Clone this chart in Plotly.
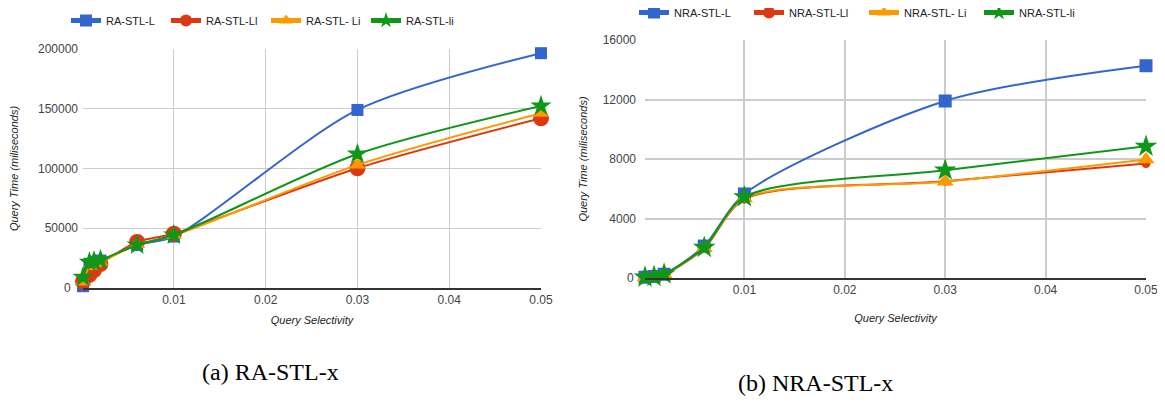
import plotly.graph_objects as go

W, H = 1165, 402
OX, OY = 8, 8  # page offset of the figure in the browser window

# ---- data: left chart (RA-STL-x) ----
ra_x = [0.0001, 0.0008, 0.0013, 0.002, 0.006, 0.01, 0.03, 0.05]
ra_L = [1500, 20000, 22000, 23000, 36000, 43000, 149000, 196500]
ra_Ll = [5500, 11000, 15000, 20000, 38500, 45500, 100200, 142000]
ra_Li = [5000, 18000, 20000, 21500, 36500, 44000, 103000, 146200]
ra_li = [9000, 21500, 22500, 23500, 36000, 44300, 112100, 152300]
ra_names = ["RA-STL-L", "RA-STL-Ll", "RA-STL- Li", "RA-STL-li"]

# ---- data: right chart (NRA-STL-x) ----
nra_x = [0.0001, 0.001, 0.002, 0.006, 0.01, 0.03, 0.05]
nra_L = [50, 100, 250, 2150, 5650, 11900, 14270]
nra_Ll = [40, 90, 230, 2000, 5300, 6500, 7700]
nra_Li = [40, 90, 230, 2000, 5350, 6470, 7970]
nra_li = [50, 100, 260, 2050, 5450, 7250, 8850]
nra_names = ["NRA-STL-L", "NRA-STL-Ll", "NRA-STL- Li", "NRA-STL-li"]

x_ticks = [0.01, 0.02, 0.03, 0.04, 0.05]
ra_yticks = [50000, 100000, 150000, 200000]
nra_yticks = [4000, 8000, 12000, 16000]
y_zero = 0

colors = ["#3366cc", "#dc3912", "#ff9900", "#109618"]
symbols = ["square", "circle", "triangle-up", "star"]
ra_sizes = [12, 16, 14, 16]
nra_sizes = [13, 9, 15, 17]

FONT = "Liberation Sans, Arial, sans-serif"

fig = go.Figure()

for i, ys in enumerate([ra_L, ra_Ll, ra_Li, ra_li]):
    fig.add_trace(go.Scatter(
        x=ra_x, y=ys, name=ra_names[i], mode="lines+markers",
        line=dict(color=colors[i], width=2, shape="spline", smoothing=0.8),
        marker=dict(symbol=symbols[i], size=ra_sizes[i], color=colors[i], line=dict(width=0)),
        xaxis="x", yaxis="y", legend="legend", cliponaxis=False))

for i, ys in enumerate([nra_L, nra_Ll, nra_Li, nra_li]):
    fig.add_trace(go.Scatter(
        x=nra_x, y=ys, name=nra_names[i], mode="lines+markers",
        line=dict(color=colors[i], width=2, shape="spline", smoothing=0.8),
        marker=dict(symbol=symbols[i], size=nra_sizes[i], color=colors[i], line=dict(width=0)),
        xaxis="x2", yaxis="y2", legend="legend2", cliponaxis=False))

def px_x(p):
    return (p - OX) / W

def px_y(p):
    return 1 - (p - OY) / H

axis_font = dict(family=FONT, size=12, color="#444")
title_font = dict(family=FONT, size=11, color="#222")

L_X0, L_X1, L_Y0, L_Y1 = 83, 541, 288, 49
R_X0, R_X1, R_Y0, R_Y1 = 645, 1146, 278, 40

fig.update_layout(
    width=W, height=H,
    margin=dict(l=0, r=0, t=0, b=0, autoexpand=False),
    paper_bgcolor="white", plot_bgcolor="white",
    xaxis=dict(domain=[px_x(L_X0), px_x(L_X1)], range=[0.0001, 0.05],
               tickvals=x_ticks, ticktext=[str(v) for v in x_ticks],
               showgrid=True, gridcolor="#cccccc", gridwidth=1, zeroline=False,
               showline=True, linecolor="#333333", linewidth=1.5,
               ticks="", tickfont=axis_font, anchor="y",
               automargin=False,
               title=dict(text="<i>Query Selectivity</i>", font=title_font, standoff=10)),
    yaxis=dict(domain=[px_y(L_Y0), px_y(L_Y1)], range=[0, 200000],
               tickvals=ra_yticks, ticktext=[str(v) for v in ra_yticks],
               showgrid=True, gridcolor="#cccccc", gridwidth=1, zeroline=False,
               showline=False, ticks="", tickfont=axis_font, anchor="x",
               automargin=False, ticklabelstandoff=4,
               title=dict(text="<i>Query Time (miliseconds)</i>", font=title_font, standoff=20)),
    xaxis2=dict(domain=[px_x(R_X0), px_x(R_X1)], range=[0.0001, 0.05],
                tickvals=x_ticks, ticktext=[str(v) for v in x_ticks],
                showgrid=True, gridcolor="#cccccc", gridwidth=2, zeroline=False,
                showline=True, linecolor="#333333", linewidth=2,
                ticks="", tickfont=axis_font, anchor="y2",
                automargin=False,
                title=dict(text="<i>Query Selectivity</i>", font=title_font, standoff=18)),
    yaxis2=dict(domain=[px_y(R_Y0), px_y(R_Y1)], range=[0, 16000],
                tickvals=nra_yticks, ticktext=[str(v) for v in nra_yticks],
                showgrid=True, gridcolor="#cccccc", gridwidth=2, zeroline=False,
                showline=False, ticks="", tickfont=axis_font, anchor="x2",
                automargin=False, ticklabelstandoff=8,
                title=dict(text="<i>Query Time (miliseconds)</i>", font=title_font, standoff=12)),
    legend=dict(orientation="h", x=px_x(66), y=px_y(6), xanchor="left", yanchor="top",
                font=dict(family=FONT, size=11, color="#222"), bgcolor="rgba(0,0,0,0)",
                itemwidth=30, tracegroupgap=0, entrywidth=55, entrywidthmode="pixels",
                itemsizing="constant"),
    legend2=dict(orientation="h", x=px_x(634), y=px_y(-2), xanchor="left", yanchor="top",
                 font=dict(family=FONT, size=11, color="#222"), bgcolor="rgba(0,0,0,0)",
                 itemwidth=30, tracegroupgap=0, entrywidth=70, entrywidthmode="pixels",
                 itemsizing="constant"),
    showlegend=True,
    annotations=[
        dict(text=str(y_zero), x=px_x(L_X0 - 10), y=y_zero, xref="paper", yref="y",
             showarrow=False, font=axis_font, xanchor="right", yanchor="middle"),
        dict(text=str(y_zero), x=px_x(R_X0 - 9), y=y_zero, xref="paper", yref="y2",
             showarrow=False, font=axis_font, xanchor="right", yanchor="middle"),
        dict(text="(a) RA-STL-x", x=px_x(270), y=px_y(372), xref="paper", yref="paper",
             showarrow=False, font=dict(family="Liberation Serif, Times New Roman, serif", size=24, color="#000"),
             xanchor="center", yanchor="middle"),
        dict(text="(b) NRA-STL-x", x=px_x(815), y=px_y(383), xref="paper", yref="paper",
             showarrow=False, font=dict(family="Liberation Serif, Times New Roman, serif", size=24, color="#000"),
             xanchor="center", yanchor="middle"),
    ],
)

fig.write_html("out.html")
